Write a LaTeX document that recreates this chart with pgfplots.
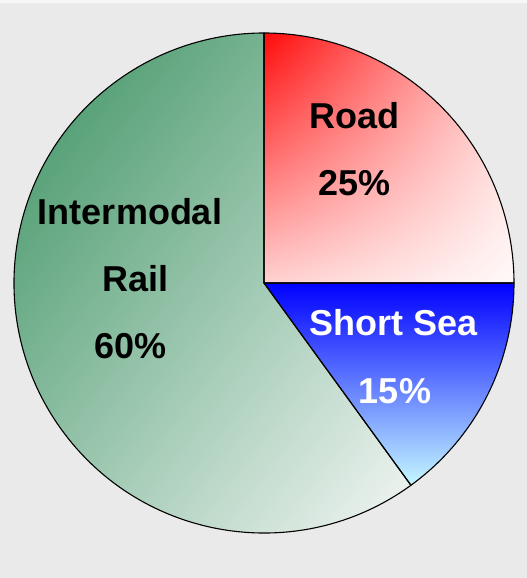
\documentclass[border=0pt]{standalone}
\usepackage{pgfplots}
\pgfplotsset{compat=1.18}
\usepackage{fontspec}
\setmainfont{Liberation Sans}
\usetikzlibrary{shadings}
\definecolor{bg}{HTML}{EAEAEA}
\definecolor{roadA}{HTML}{FF0A0A}
\definecolor{roadB}{HTML}{FFFAF9}
\definecolor{railA}{HTML}{348E5C}
\definecolor{railB}{HTML}{FAFAFA}
\definecolor{seaA}{HTML}{0000FF}
\definecolor{seaM}{HTML}{86A8FF}
\definecolor{seaB}{HTML}{C4F8FF}
% shares in percent
\def\road{25}
\def\sea{15}
\def\rail{60}
\begin{document}
\begin{tikzpicture}
\begin{axis}[width=527pt,height=578pt,scale only axis,
  xmin=0,xmax=527,ymin=0,ymax=578,hide axis,clip=false]
\coordinate (ll) at (axis cs:0,0);
\coordinate (ur) at (axis cs:527,578);
\fill[bg] (axis cs:0,0) rectangle (axis cs:527,578);
\fill[white!60!bg] (axis cs:0,575) rectangle (axis cs:527,578);
\pgfmathsetmacro{\aA}{90}
\pgfmathsetmacro{\aB}{90-\road*3.6}
\pgfmathsetmacro{\aC}{\aB-\sea*3.6}
\pgfmathsetmacro{\aD}{\aC-\rail*3.6}
% Road
\shade[upper left=roadA, lower right=roadB, upper right=roadA!17!roadB, lower left=roadA!17!roadB]
  (axis cs:264,295) -- ++(\aA:250pt) arc[start angle=\aA,end angle=\aB,radius=250pt] -- cycle;
% Short Sea
\shade[top color=seaA, middle color=seaM, bottom color=seaB]
  (axis cs:264,295) -- ++(\aB:250pt) arc[start angle=\aB,end angle=\aC,radius=250pt] -- cycle;
% Rail
\shade[upper left=railA, lower right=railB, upper right=railA!50!railB, lower left=railA!52!railB]
  (axis cs:264,295) -- ++(\aC:250pt) arc[start angle=\aC,end angle=\aD,radius=250pt] -- cycle;
% outlines
\begin{scope}[black,line width=1.1pt,line join=round]
\draw (axis cs:264,295) -- ++(\aA:250pt) arc[start angle=\aA,end angle=\aB,radius=250pt] -- cycle;
\draw (axis cs:264,295) -- ++(\aB:250pt) arc[start angle=\aB,end angle=\aC,radius=250pt] -- cycle;
\draw (axis cs:264,295) -- ++(\aC:250pt) arc[start angle=\aC,end angle=\aD,radius=250pt] -- cycle;
\end{scope}
% labels
\begin{scope}[every node/.style={anchor=base,inner sep=0pt,font=\fontsize{36}{40}\selectfont\bfseries}]
\node at (axis cs:354.5,449) {Road};
\node at (axis cs:354.5,382) {25\%};
\node[white] at (axis cs:394,242) {Short Sea};
\node[white] at (axis cs:395,174) {15\%};
\node at (axis cs:130,353) {Intermodal};
\node at (axis cs:135.5,286) {Rail};
\node at (axis cs:130.5,219) {60\%};
\end{scope}
\end{axis}
\pgfresetboundingbox
\path[use as bounding box] (ll) rectangle (ur);
\end{tikzpicture}
\end{document}
